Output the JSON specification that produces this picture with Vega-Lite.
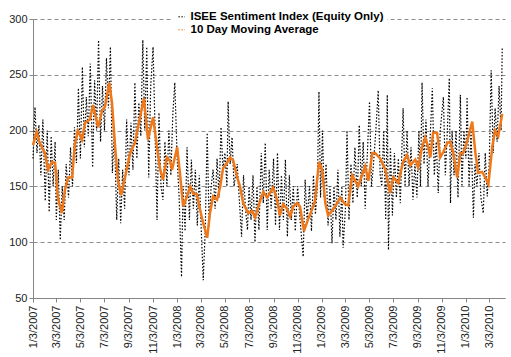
{
"$schema": "https://vega.github.io/schema/vega-lite/v6.json",
"width": 472,
"height": 279,
"autosize": "none",
"padding": {"left": 33, "top": 19, "right": 6, "bottom": 59},
"background": "white",
"config": {"view": {"stroke": null}, "font": "Liberation Sans"},
"datasets": {
"raw": [
{"date":"2007-01-03","v":175},{"date":"2007-01-08","v":221},{"date":"2007-01-13","v":180},{"date":"2007-01-18","v":205},{"date":"2007-01-23","v":160},{"date":"2007-01-28","v":210},
{"date":"2007-02-03","v":137},{"date":"2007-02-08","v":200},{"date":"2007-02-13","v":127},{"date":"2007-02-18","v":195},{"date":"2007-02-23","v":150},{"date":"2007-02-28","v":190},
{"date":"2007-03-03","v":120},{"date":"2007-03-08","v":165},{"date":"2007-03-13","v":102},{"date":"2007-03-18","v":150},{"date":"2007-03-23","v":120},{"date":"2007-03-28","v":170},
{"date":"2007-04-03","v":140},{"date":"2007-04-08","v":185},{"date":"2007-04-13","v":150},{"date":"2007-04-18","v":203},{"date":"2007-04-23","v":171},{"date":"2007-04-28","v":238},
{"date":"2007-05-03","v":175},{"date":"2007-05-08","v":257},{"date":"2007-05-13","v":185},{"date":"2007-05-18","v":230},{"date":"2007-05-23","v":195},{"date":"2007-05-28","v":260},
{"date":"2007-06-03","v":167},{"date":"2007-06-08","v":245},{"date":"2007-06-13","v":200},{"date":"2007-06-18","v":281},{"date":"2007-06-23","v":190},{"date":"2007-06-28","v":240},
{"date":"2007-07-03","v":200},{"date":"2007-07-08","v":265},{"date":"2007-07-13","v":220},{"date":"2007-07-18","v":275},{"date":"2007-07-23","v":162},{"date":"2007-07-28","v":200},
{"date":"2007-08-03","v":120},{"date":"2007-08-08","v":175},{"date":"2007-08-13","v":117},{"date":"2007-08-18","v":165},{"date":"2007-08-23","v":130},{"date":"2007-08-28","v":210},
{"date":"2007-09-03","v":160},{"date":"2007-09-08","v":207},{"date":"2007-09-13","v":165},{"date":"2007-09-18","v":243},{"date":"2007-09-23","v":175},{"date":"2007-09-28","v":225},
{"date":"2007-10-03","v":195},{"date":"2007-10-08","v":281},{"date":"2007-10-13","v":200},{"date":"2007-10-18","v":275},{"date":"2007-10-23","v":158},{"date":"2007-10-28","v":240},
{"date":"2007-11-03","v":275},{"date":"2007-11-08","v":200},{"date":"2007-11-13","v":120},{"date":"2007-11-18","v":216},{"date":"2007-11-23","v":150},{"date":"2007-11-28","v":138},
{"date":"2007-12-03","v":190},{"date":"2007-12-08","v":150},{"date":"2007-12-13","v":200},{"date":"2007-12-18","v":160},{"date":"2007-12-23","v":215},{"date":"2007-12-28","v":243},
{"date":"2008-01-03","v":175},{"date":"2008-01-08","v":140},{"date":"2008-01-14","v":69},{"date":"2008-01-18","v":150},{"date":"2008-01-23","v":110},{"date":"2008-01-28","v":185},
{"date":"2008-02-03","v":120},{"date":"2008-02-08","v":174},{"date":"2008-02-13","v":130},{"date":"2008-02-18","v":165},{"date":"2008-02-23","v":115},{"date":"2008-02-28","v":160},
{"date":"2008-03-03","v":120},{"date":"2008-03-09","v":66},{"date":"2008-03-14","v":110},{"date":"2008-03-19","v":198},{"date":"2008-03-24","v":114},{"date":"2008-03-29","v":150},
{"date":"2008-04-03","v":165},{"date":"2008-04-08","v":130},{"date":"2008-04-13","v":175},{"date":"2008-04-18","v":140},{"date":"2008-04-23","v":203},{"date":"2008-04-28","v":165},
{"date":"2008-05-03","v":180},{"date":"2008-05-08","v":150},{"date":"2008-05-11","v":226},{"date":"2008-05-16","v":170},{"date":"2008-05-21","v":194},{"date":"2008-05-26","v":150},
{"date":"2008-06-03","v":170},{"date":"2008-06-08","v":140},{"date":"2008-06-14","v":105},{"date":"2008-06-19","v":160},{"date":"2008-06-24","v":130},{"date":"2008-06-29","v":111},
{"date":"2008-07-03","v":150},{"date":"2008-07-08","v":120},{"date":"2008-07-13","v":160},{"date":"2008-07-18","v":100},{"date":"2008-07-23","v":150},{"date":"2008-07-28","v":111},
{"date":"2008-08-03","v":180},{"date":"2008-08-08","v":135},{"date":"2008-08-13","v":189},{"date":"2008-08-18","v":111},{"date":"2008-08-23","v":165},{"date":"2008-08-28","v":130},
{"date":"2008-09-03","v":175},{"date":"2008-09-08","v":115},{"date":"2008-09-13","v":180},{"date":"2008-09-18","v":111},{"date":"2008-09-23","v":160},{"date":"2008-09-28","v":120},
{"date":"2008-10-03","v":174},{"date":"2008-10-08","v":105},{"date":"2008-10-13","v":160},{"date":"2008-10-18","v":120},{"date":"2008-10-23","v":150},{"date":"2008-10-28","v":110},
{"date":"2008-11-03","v":150},{"date":"2008-11-08","v":125},{"date":"2008-11-17","v":87},{"date":"2008-11-22","v":156},{"date":"2008-11-27","v":120},
{"date":"2008-12-03","v":150},{"date":"2008-12-08","v":110},{"date":"2008-12-13","v":160},{"date":"2008-12-18","v":125},{"date":"2008-12-23","v":150},{"date":"2008-12-27","v":235},{"date":"2008-12-31","v":140},
{"date":"2009-01-05","v":200},{"date":"2009-01-09","v":140},{"date":"2009-01-14","v":170},{"date":"2009-01-19","v":115},{"date":"2009-01-24","v":150},{"date":"2009-01-29","v":99},
{"date":"2009-02-03","v":150},{"date":"2009-02-08","v":120},{"date":"2009-02-13","v":165},{"date":"2009-02-18","v":105},{"date":"2009-02-23","v":150},{"date":"2009-02-26","v":95},
{"date":"2009-03-04","v":130},{"date":"2009-03-08","v":200},{"date":"2009-03-13","v":120},{"date":"2009-03-18","v":170},{"date":"2009-03-23","v":135},{"date":"2009-03-28","v":185},
{"date":"2009-04-03","v":140},{"date":"2009-04-08","v":205},{"date":"2009-04-13","v":150},{"date":"2009-04-18","v":190},{"date":"2009-04-23","v":130},{"date":"2009-04-28","v":175},
{"date":"2009-05-04","v":226},{"date":"2009-05-09","v":150},{"date":"2009-05-14","v":170},{"date":"2009-05-20","v":200},{"date":"2009-05-26","v":236},{"date":"2009-05-31","v":160},
{"date":"2009-06-04","v":150},{"date":"2009-06-09","v":200},{"date":"2009-06-14","v":120},{"date":"2009-06-18","v":232},{"date":"2009-06-21","v":93},{"date":"2009-06-26","v":185},
{"date":"2009-07-01","v":124},{"date":"2009-07-06","v":180},{"date":"2009-07-11","v":140},{"date":"2009-07-16","v":175},{"date":"2009-07-21","v":135},{"date":"2009-07-28","v":220},
{"date":"2009-08-02","v":150},{"date":"2009-08-07","v":200},{"date":"2009-08-12","v":150},{"date":"2009-08-17","v":185},{"date":"2009-08-22","v":138},{"date":"2009-08-27","v":170},
{"date":"2009-09-01","v":140},{"date":"2009-09-06","v":200},{"date":"2009-09-10","v":150},{"date":"2009-09-14","v":243},{"date":"2009-09-19","v":170},{"date":"2009-09-24","v":210},{"date":"2009-09-29","v":150},
{"date":"2009-10-04","v":190},{"date":"2009-10-10","v":238},{"date":"2009-10-15","v":160},{"date":"2009-10-20","v":190},{"date":"2009-10-25","v":144},{"date":"2009-10-30","v":200},
{"date":"2009-11-07","v":230},{"date":"2009-11-12","v":160},{"date":"2009-11-17","v":200},{"date":"2009-11-22","v":247},{"date":"2009-11-25","v":135},{"date":"2009-11-29","v":200},
{"date":"2009-12-04","v":160},{"date":"2009-12-09","v":200},{"date":"2009-12-14","v":140},{"date":"2009-12-20","v":232},{"date":"2009-12-24","v":150},{"date":"2009-12-29","v":200},
{"date":"2010-01-03","v":175},{"date":"2010-01-06","v":230},{"date":"2010-01-11","v":150},{"date":"2010-01-16","v":200},{"date":"2010-01-22","v":122},{"date":"2010-01-26","v":170},{"date":"2010-01-31","v":150},
{"date":"2010-02-05","v":180},{"date":"2010-02-10","v":140},{"date":"2010-02-16","v":126},{"date":"2010-02-21","v":180},{"date":"2010-02-26","v":141},
{"date":"2010-03-03","v":170},{"date":"2010-03-08","v":254},{"date":"2010-03-13","v":180},{"date":"2010-03-18","v":220},{"date":"2010-03-23","v":190},{"date":"2010-03-28","v":240},
{"date":"2010-04-02","v":200},{"date":"2010-04-05","v":274}
],
"ma": [
{"date":"2007-01-03","v":187},{"date":"2007-01-12","v":199},{"date":"2007-01-20","v":189},{"date":"2007-02-02","v":180},{"date":"2007-02-10","v":165},{"date":"2007-02-20","v":172},{"date":"2007-02-28","v":171},
{"date":"2007-03-07","v":140},{"date":"2007-03-17","v":126},{"date":"2007-03-25","v":147},{"date":"2007-04-02","v":158},{"date":"2007-04-12","v":158},{"date":"2007-04-19","v":188},{"date":"2007-04-27","v":200},
{"date":"2007-05-07","v":192},{"date":"2007-05-15","v":207},{"date":"2007-05-27","v":210},{"date":"2007-06-04","v":223},{"date":"2007-06-17","v":203},{"date":"2007-06-27","v":218},{"date":"2007-07-04","v":221},
{"date":"2007-07-15","v":243},{"date":"2007-07-22","v":225},{"date":"2007-07-30","v":185},{"date":"2007-08-06","v":156},{"date":"2007-08-14","v":142},{"date":"2007-08-24","v":158},{"date":"2007-09-06","v":180},
{"date":"2007-09-18","v":189},{"date":"2007-10-01","v":212},{"date":"2007-10-11","v":229},{"date":"2007-10-21","v":192},{"date":"2007-11-03","v":212},{"date":"2007-11-13","v":185},{"date":"2007-11-21","v":165},
{"date":"2007-11-28","v":156},{"date":"2007-12-08","v":176},{"date":"2007-12-16","v":173},{"date":"2007-12-21","v":165},{"date":"2008-01-03","v":185},{"date":"2008-01-10","v":162},{"date":"2008-01-18","v":132},
{"date":"2008-01-28","v":141},{"date":"2008-02-05","v":150},{"date":"2008-02-12","v":144},{"date":"2008-02-22","v":143},{"date":"2008-03-01","v":129},{"date":"2008-03-09","v":117},{"date":"2008-03-19","v":104},
{"date":"2008-03-26","v":126},{"date":"2008-04-03","v":141},{"date":"2008-04-13","v":138},{"date":"2008-04-21","v":150},{"date":"2008-04-28","v":166},{"date":"2008-05-08","v":171},{"date":"2008-05-16","v":176},
{"date":"2008-05-24","v":173},{"date":"2008-06-03","v":158},{"date":"2008-06-10","v":150},{"date":"2008-06-18","v":135},{"date":"2008-07-01","v":126},{"date":"2008-07-11","v":128},{"date":"2008-07-18","v":122},
{"date":"2008-07-31","v":137},{"date":"2008-08-08","v":145},{"date":"2008-08-18","v":140},{"date":"2008-09-02","v":149},{"date":"2008-09-12","v":138},{"date":"2008-09-19","v":124},{"date":"2008-09-27","v":134},
{"date":"2008-10-07","v":130},{"date":"2008-10-15","v":123},{"date":"2008-10-23","v":132},{"date":"2008-11-02","v":135},{"date":"2008-11-09","v":132},{"date":"2008-11-19","v":110},{"date":"2008-11-29","v":120},
{"date":"2008-12-09","v":129},{"date":"2008-12-17","v":137},{"date":"2008-12-27","v":172},{"date":"2009-01-04","v":165},{"date":"2009-01-12","v":135},{"date":"2009-01-19","v":124},{"date":"2009-01-29","v":128},
{"date":"2009-02-11","v":135},{"date":"2009-02-19","v":140},{"date":"2009-03-03","v":134},{"date":"2009-03-11","v":133},{"date":"2009-03-21","v":160},{"date":"2009-03-29","v":155},{"date":"2009-04-05","v":150},
{"date":"2009-04-15","v":160},{"date":"2009-04-23","v":168},{"date":"2009-05-01","v":155},{"date":"2009-05-11","v":180},{"date":"2009-05-18","v":180},{"date":"2009-05-31","v":175},{"date":"2009-06-13","v":165},
{"date":"2009-06-25","v":144},{"date":"2009-07-03","v":158},{"date":"2009-07-16","v":153},{"date":"2009-07-28","v":172},{"date":"2009-08-07","v":178},{"date":"2009-08-15","v":169},{"date":"2009-08-28","v":174},
{"date":"2009-09-04","v":167},{"date":"2009-09-14","v":185},{"date":"2009-09-22","v":194},{"date":"2009-09-30","v":185},{"date":"2009-10-05","v":176},{"date":"2009-10-12","v":198},{"date":"2009-10-22","v":198},
{"date":"2009-10-30","v":176},{"date":"2009-11-07","v":181},{"date":"2009-11-17","v":189},{"date":"2009-11-24","v":190},{"date":"2009-12-02","v":180},{"date":"2009-12-12","v":158},{"date":"2009-12-20","v":180},
{"date":"2009-12-27","v":180},{"date":"2010-01-06","v":190},{"date":"2010-01-19","v":208},{"date":"2010-01-27","v":180},{"date":"2010-02-03","v":162},{"date":"2010-02-13","v":163},{"date":"2010-02-21","v":158},
{"date":"2010-03-01","v":152},{"date":"2010-03-11","v":186},{"date":"2010-03-18","v":200},{"date":"2010-03-26","v":195},{"date":"2010-04-05","v":215}
]
},
"encoding": {
"x": {"field": "date", "type": "temporal",
 "scale": {"type": "utc", "domain": [{"year": 2007, "month": 1, "date": 3, "utc": true}, {"year": 2010, "month": 4, "date": 12, "utc": true}]},
 "axis": {"title": null, "grid": false, "format": "%-m/%-d/%Y", "labelAngle": -90, "labelAlign": "right", "labelBaseline": "middle", "labelFontSize": 11, "labelColor": "#222222", "labelPadding": 3, "tickSize": 4, "tickColor": "#868686", "domainColor": "#868686", "labelOverlap": false, "labelFlush": false,
  "values": [
   {"year":2007,"month":1,"date":3,"utc":true},{"year":2007,"month":3,"date":3,"utc":true},{"year":2007,"month":5,"date":3,"utc":true},{"year":2007,"month":7,"date":3,"utc":true},{"year":2007,"month":9,"date":3,"utc":true},{"year":2007,"month":11,"date":3,"utc":true},
   {"year":2008,"month":1,"date":3,"utc":true},{"year":2008,"month":3,"date":3,"utc":true},{"year":2008,"month":5,"date":3,"utc":true},{"year":2008,"month":7,"date":3,"utc":true},{"year":2008,"month":9,"date":3,"utc":true},{"year":2008,"month":11,"date":3,"utc":true},
   {"year":2009,"month":1,"date":3,"utc":true},{"year":2009,"month":3,"date":3,"utc":true},{"year":2009,"month":5,"date":3,"utc":true},{"year":2009,"month":7,"date":3,"utc":true},{"year":2009,"month":9,"date":3,"utc":true},{"year":2009,"month":11,"date":3,"utc":true},
   {"year":2010,"month":1,"date":3,"utc":true},{"year":2010,"month":3,"date":3,"utc":true}
  ]}},
"y": {"field": "v", "type": "quantitative",
 "scale": {"domain": [50, 300], "nice": false, "zero": false},
 "axis": {"title": null, "values": [50, 100, 150, 200, 250, 300], "grid": true, "gridDash": [4, 3], "gridColor": "#8c8c8c", "tickSize": 4, "tickColor": "#868686", "domainColor": "#868686", "labelFontSize": 11, "labelColor": "#222222", "labelPadding": 2}}
},
"layer": [
{"data": {"name": "raw"},
 "mark": {"type": "line", "strokeWidth": 1.2, "strokeDash": [1.5, 1.8]},
 "encoding": {"color": {"datum": "ISEE Sentiment Index (Equity Only)",
  "scale": {"domain": ["ISEE Sentiment Index (Equity Only)", "10 Day Moving Average"], "range": ["#000000", "#F07818"]},
  "legend": {"orient": "none", "legendX": 140, "legendY": -11, "title": null, "symbolType": "stroke", "symbolSize": 40, "symbolStrokeWidth": 1.5, "symbolDash": [1, 2], "labelFontSize": 11.5, "labelFontWeight": "bold", "labelColor": "#000000", "labelLimit": 400, "fillColor": "white", "padding": 3, "rowPadding": 0, "labelOffset": 3}}}},
{"data": {"name": "ma"},
 "mark": {"type": "line", "strokeWidth": 2.5},
 "encoding": {"color": {"datum": "10 Day Moving Average"}}}
]
}
